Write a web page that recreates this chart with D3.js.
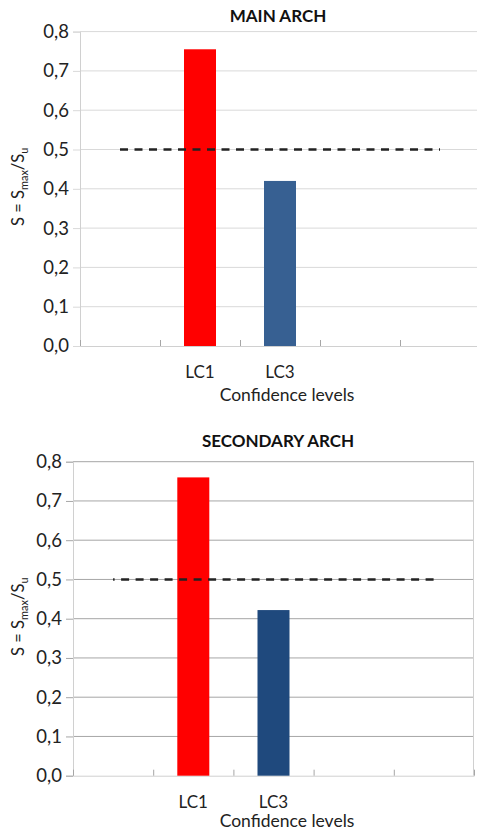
<!DOCTYPE html>
<html><head><meta charset="utf-8">
<script src="https://cdn.jsdelivr.net/npm/d3@7"></script>
<style>
html,body{margin:0;padding:0;background:#fff;}
svg{display:block;font-family:Lato,"Open Sans",sans-serif;}
</style></head>
<body>
<svg id="c" width="477" height="832"></svg>
<script>
// ---- data ----
const categories = ["", "LC1", "LC3", "", ""];
const mainArchValues = [null, 0.755, 0.42, null, null];
const secondaryArchValues = [null, 0.76, 0.422, null, null];
const limitValues = [0.5, 0.5, 0.5, 0.5, 0.5];
const yTickValues = [0, 0.1, 0.2, 0.3, 0.4, 0.5, 0.6, 0.7, 0.8];
const barColorsMain = ["#ff0000", "#ff0000", "#376092", "#376092", "#376092"];
const barColorsSecondary = ["#ff0000", "#ff0000", "#1f497d", "#1f497d", "#1f497d"];

const svg = d3.select("#c");
const fmt = d => d3.format(".1f")(d).replace(".", ",");

function drawChart(cfg) {
  const g = svg.append("g");
  const x = d3.scaleBand().domain(d3.range(categories.length))
    .range([cfg.left, cfg.right]).paddingInner(0).paddingOuter(0);
  const y = d3.scaleLinear().domain([0, 0.8]).range([cfg.bottom, cfg.top]);

  // gridlines
  g.append("g").selectAll("line").data(yTickValues.filter(v => v > 0)).join("line")
    .attr("x1", cfg.left).attr("x2", cfg.right)
    .attr("y1", d => y(d)).attr("y2", d => y(d))
    .attr("stroke", cfg.gridColor).attr("stroke-width", 1);

  if (cfg.border) {
    g.append("line").attr("x1", cfg.right - 0.5).attr("x2", cfg.right - 0.5)
      .attr("y1", cfg.top).attr("y2", cfg.bottom)
      .attr("stroke", "#d0d0d0");
  }

  // y axis
  const ya = g.append("g").attr("transform", `translate(${cfg.left},0)`)
    .call(d3.axisLeft(y).tickValues(yTickValues).tickFormat(fmt).tickSize(7).tickPadding(4));
  ya.select(".domain").attr("stroke", "#d0d0d0");
  ya.selectAll(".tick line").attr("stroke", cfg.gridColor);
  ya.selectAll("text").attr("font-size", 18.5).attr("fill", "#222").attr("font-family", "Lato, sans-serif");

  // x axis
  const xb = d3.scaleLinear().domain([0, categories.length]).range([cfg.left, cfg.right]);
  const xa = g.append("g").attr("transform", `translate(0,${cfg.bottom})`)
    .call(d3.axisBottom(xb).tickValues(d3.range(categories.length + 1)).tickFormat("").tickSizeInner(-6).tickSizeOuter(0));
  xa.select(".domain").attr("stroke", "#d0d0d0");
  xa.selectAll(".tick line").attr("stroke", "#a6a6a6");

  // category labels
  g.append("g").selectAll("text").data(categories).join("text")
    .attr("x", (d, i) => x(i) + x.bandwidth() / 2)
    .attr("y", cfg.bottom + 32)
    .attr("text-anchor", "middle").attr("font-size", 17).attr("fill", "#222")
    .text(d => d);

  // bars
  const bw = 32;
  g.append("g").selectAll("rect").data(cfg.values.map((v, i) => ({v, i})).filter(d => d.v != null)).join("rect")
    .attr("x", d => x(d.i) + x.bandwidth() / 2 - bw / 2)
    .attr("width", bw)
    .attr("y", d => y(d.v))
    .attr("height", d => y(0) - y(d.v))
    .attr("fill", d => cfg.colors[d.i]);

  // limit dashed line
  const line = d3.line().x((d, i) => x(i) + x.bandwidth() / 2).y(d => y(d));
  g.append("path").datum(limitValues).attr("d", line)
    .attr("fill", "none").attr("stroke", "#222").attr("stroke-width", 2.5)
    .attr("stroke-dasharray", "8,6.5").attr("stroke-dashoffset", cfg.dashOffset);

  // title
  g.append("text").attr("x", 278).attr("y", cfg.titleY)
    .attr("text-anchor", "middle").attr("font-size", 17).attr("font-weight", "bold").attr("fill", "#111")
    .text(cfg.title);

  // x axis title
  g.append("text").attr("x", 287).attr("y", cfg.bottom + cfg.xTitleDy)
    .attr("text-anchor", "middle").attr("font-size", 17.5).attr("fill", "#222")
    .text("Confidence levels");

  // y axis title
  const yt = g.append("text")
    .attr("transform", `translate(24,${(cfg.top + cfg.bottom) / 2 - 2}) rotate(-90)`)
    .attr("text-anchor", "middle").attr("font-size", 16.5).attr("fill", "#222");
  yt.append("tspan").text("S = S");
  yt.append("tspan").attr("font-size", 11).attr("dy", 4).text("max");
  yt.append("tspan").attr("dy", -4).text("/S");
  yt.append("tspan").attr("font-size", 11).attr("dy", 4).text("u");
}

drawChart({
  title: "MAIN ARCH", titleY: 22, values: mainArchValues, colors: barColorsMain,
  left: 80, right: 480, top: 31.6, bottom: 346, gridColor: "#d9d9d9", border: false, dashOffset: 0, xTitleDy: 55
});
drawChart({
  title: "SECONDARY ARCH", titleY: 447, values: secondaryArchValues, colors: barColorsSecondary,
  left: 73, right: 474, top: 461.7, bottom: 775.7, gridColor: "#a6a6a6", border: true, dashOffset: -8, xTitleDy: 51.5
});
</script>
</body></html>
